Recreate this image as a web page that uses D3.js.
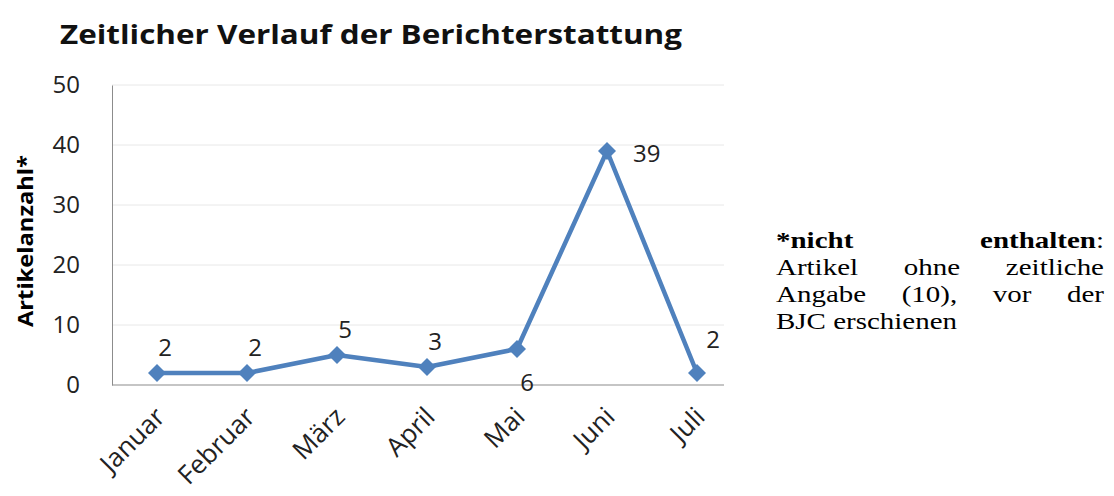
<!DOCTYPE html>
<html><head><meta charset="utf-8">
<script src="https://cdn.jsdelivr.net/npm/d3@7"></script>
<style>body{margin:0;background:#fff;}svg{display:block;}</style>
</head><body>
<svg id="c" width="1114" height="496"></svg>
<script>
const months = ["Januar","Februar","März","April","Mai","Juni","Juli"];
const counts = [2,2,5,3,6,39,2];
const yTicks = [0,10,20,30,40,50];
const labelPos = ["top","top","top","top","bottom","right","topright"];
const title = "Zeitlicher Verlauf der Berichterstattung";
const yTitle = "Artikelanzahl*";
const noteLines = [
  [[{t:"*nicht",b:true}],[{t:"enthalten",b:true},{t:":",b:false}]],
  [[{t:"Artikel"}],[{t:"ohne"}],[{t:"zeitliche"}]],
  [[{t:"Angabe"}],[{t:"(10),"}],[{t:"vor"}],[{t:"der"}]],
  [[{t:"BJC"}],[{t:"erschienen"}]]
];

const svg = d3.select("#c");
const font = "'Open Sans', 'Noto Sans', sans-serif";
const pLeft = 112, pRight = 742, pTop = 85, pBottom = 385;
const x = d3.scalePoint().domain(months).range([pLeft, pRight]).padding(0.5);
const y = d3.scaleLinear().domain([0,50]).range([pBottom, pTop]);

svg.append("text").attr("x", 60).attr("y", 44).attr("font-family", font)
  .attr("font-size", 27).attr("font-weight", "bold").attr("fill", "#111")
  .attr("textLength", 622).attr("lengthAdjust", "spacingAndGlyphs").text(title);

// gridlines
svg.append("g").selectAll("line").data(yTicks.filter(d => d > 0)).join("line")
  .attr("x1", pLeft).attr("x2", 724).attr("y1", d => y(d)).attr("y2", d => y(d))
  .attr("stroke", "#e8e8e8").attr("stroke-width", 1);

// y axis
const ya = svg.append("g").attr("transform", `translate(${pLeft},0)`)
  .call(d3.axisLeft(y).tickValues(yTicks).tickSize(0).tickPadding(32));
ya.select(".domain").attr("stroke", "#8c8c8c");
ya.selectAll("text").attr("font-family", font).attr("font-size", 24).attr("fill", "#222");

// x axis line
svg.append("line").attr("x1", pLeft).attr("x2", 724).attr("y1", pBottom).attr("y2", pBottom)
  .attr("stroke", "#8c8c8c").attr("stroke-width", 1.2);

// x labels
svg.append("g").selectAll("text").data(months).join("text")
  .attr("transform", d => `translate(${x(d)+3},${pBottom+27}) rotate(-45)`)
  .attr("text-anchor", "end").attr("dy", "0.35em")
  .attr("font-family", font).attr("font-size", 26).attr("fill", "#222").text(d => d);

// y title
svg.append("text").attr("transform", `translate(33,241) rotate(-90)`)
  .attr("text-anchor", "middle").attr("font-family", font).attr("font-size", 21)
  .attr("font-weight", "bold").attr("fill", "#000")
  .attr("textLength", 172).attr("lengthAdjust", "spacingAndGlyphs").text(yTitle);

// line
const data = months.map((m,i) => ({m, v: counts[i], p: labelPos[i]}));
svg.append("path").datum(data)
  .attr("d", d3.line().x(d => x(d.m)).y(d => y(d.v)))
  .attr("fill", "none").attr("stroke", "#4f81bd").attr("stroke-width", 4.5)
  .attr("stroke-linejoin", "round");
svg.append("g").selectAll("path").data(data).join("path")
  .attr("transform", d => `translate(${x(d.m)},${y(d.v)})`)
  .attr("d", "M0,-9L9,0L0,9L-9,0Z").attr("fill", "#4f81bd");

// data labels
svg.append("g").selectAll("text").data(data).join("text")
  .attr("x", d => x(d.m) + (d.p === "right" ? 26 : d.p === "topright" ? 16 : d.p === "bottom" ? 10 : 8))
  .attr("y", d => y(d.v) + (d.p === "bottom" ? 42 : d.p === "right" ? 11 : d.p === "topright" ? -25 : -17))
  .attr("text-anchor", d => d.p === "right" ? "start" : "middle")
  .attr("font-family", font).attr("font-size", 24).attr("fill", "#222")
  .text(d => d.v);

// note (justified, horizontally stretched like the reference)
const serif = "'Liberation Serif', 'Times New Roman', serif";
const nx0 = 776, nx1 = 1104, ny0 = 248, lh = 27, sx = 1.26;
const noteG = svg.append("g").attr("transform", `translate(${nx0},0) scale(${sx},1)`);
const avail = (nx1 - nx0) / sx;
noteLines.forEach((words, li) => {
  const g = noteG.append("g");
  const els = words.map(w => {
    const t = g.append("text").attr("y", ny0 + li*lh).attr("font-family", serif)
      .attr("font-size", 23).attr("fill", "#000");
    w.forEach(p => t.append("tspan").attr("font-weight", p.b ? "bold" : "normal").text(p.t));
    return t;
  });
  const widths = els.map(e => e.node().getComputedTextLength());
  const last = li === noteLines.length - 1;
  const total = d3.sum(widths);
  const gap = last ? 5.75 : (avail - total) / (els.length - 1);
  let cx = 0;
  els.forEach((e, i) => { e.attr("x", cx); cx += widths[i] + gap; });
});
</script>
</body></html>
